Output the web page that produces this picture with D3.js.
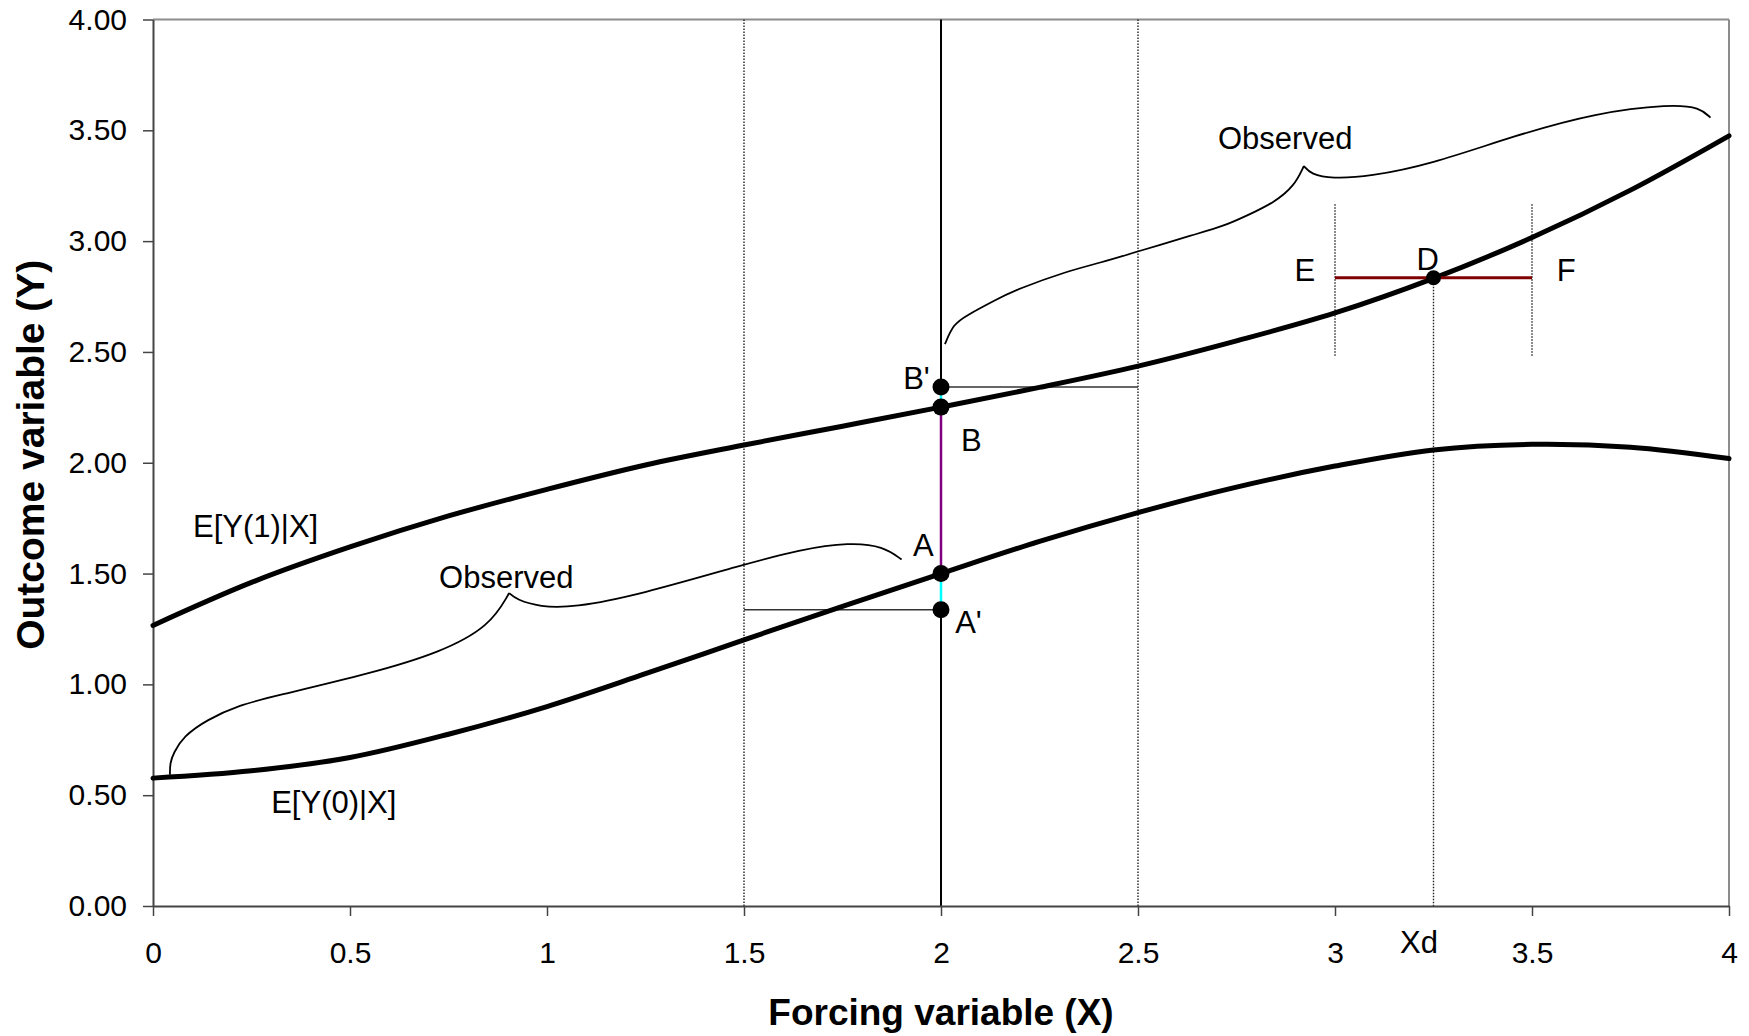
<!DOCTYPE html>
<html><head><meta charset="utf-8">
<script src="https://cdn.jsdelivr.net/npm/d3@7"></script>
<style>
body{margin:0;background:#fff}
text{font-family:"Liberation Sans", Arial, sans-serif}
</style>
</head><body>
<svg id="c" width="1749" height="1036"></svg>
<script>
// ---------- data ----------
const xTicks = [0, 0.5, 1, 1.5, 2, 2.5, 3, 3.5, 4];
const yTicks = [0, 0.5, 1, 1.5, 2, 2.5, 3, 3.5, 4];
const curveX = [0, 0.25, 0.5, 0.75, 1, 1.25, 1.5, 1.75, 2, 2.25, 2.5, 2.75, 3, 3.25, 3.5, 3.75, 4];
const treatedY = [1.266, 1.46, 1.62, 1.76, 1.88, 1.99, 2.08, 2.165, 2.251, 2.34, 2.436, 2.55, 2.676, 2.832, 3.016, 3.23, 3.475];
const controlY = [0.577, 0.61, 0.67, 0.775, 0.90, 1.048, 1.201, 1.352, 1.50, 1.645, 1.775, 1.89, 1.985, 2.058, 2.083, 2.07, 2.019];

// braces (x, y) in data units
const braceLowLeft = [[0.043,0.592],[0.043,0.644],[0.052,0.690],[0.077,0.765],[0.136,0.840],[0.221,0.908],[0.305,0.945],[0.558,1.052],[0.728,1.143],[0.855,1.262],[0.904,1.412]];
const braceLowRight = [[0.904,1.412],[0.923,1.382],[0.982,1.350],[1.066,1.346],[1.236,1.405],[1.498,1.54],[1.642,1.608],[1.769,1.641],[1.854,1.623],[1.90,1.563]];
const braceUpLeft = [[2.010,2.535],[2.031,2.624],[2.062,2.662],[2.141,2.737],[2.192,2.782],[2.321,2.865],[2.404,2.902],[2.503,2.955],[2.645,3.031],[2.718,3.068],[2.775,3.114],[2.845,3.173],[2.897,3.249],[2.921,3.339]];
const braceUpRight = [[2.921,3.339],[2.939,3.302],[2.992,3.282],[3.086,3.291],[3.244,3.347],[3.454,3.475],[3.664,3.580],[3.853,3.618],[3.926,3.603],[3.953,3.557]];

// key points
const cutoff = 2;
const bandLow = 1.5, bandHigh = 2.5;
const pointNames = ["B'", "B", "A", "A'"];
const pointY = [2.342, 2.251, 1.50, 1.337];
const xd = 3.25, dY = 2.835;
const winLow = 3.0, winHigh = 3.5, winTop = 3.166, winBottom = 2.478;

// text annotations (data units, left/baseline anchor)
const labelText = ["E[Y(1)|X]", "Observed", "E[Y(0)|X]", "Observed", "E", "D", "F", "B'", "B", "A", "A'", "Xd"];
const labelX = [0.1015, 0.726, 0.30, 2.703, 2.897, 3.207, 3.563, 1.904, 2.051, 1.929, 2.036, 3.165];
const labelY = [1.667, 1.436, 0.42, 3.415, 2.82, 2.869, 2.82, 2.331, 2.051, 1.578, 1.232, -0.212];

// ---------- layout ----------
const W = 1749, H = 1036;
const m = {l: 153, r: 20, t: 19.5, b: 130};
const svg = d3.select("#c");
const x = d3.scaleLinear().domain([0, 4]).range([m.l, W - m.r]);
const y = d3.scaleLinear().domain([0, 4]).range([H - m.b, m.t]);
const x0 = x(0), x1 = x(4), y0 = y(0), y1 = y(4);

// frame (top & right in gray)
svg.append("line").attr("x1", x0).attr("x2", x1).attr("y1", y1).attr("y2", y1).attr("stroke", "#8c8c8c").attr("stroke-width", 2);
svg.append("line").attr("x1", x1).attr("x2", x1).attr("y1", y1).attr("y2", y0).attr("stroke", "#8c8c8c").attr("stroke-width", 2);

// dotted verticals at band edges
[bandLow, bandHigh].forEach(v => {
  svg.append("line").attr("x1", x(v)).attr("x2", x(v)).attr("y1", y1).attr("y2", y0)
    .attr("stroke", "#222").attr("stroke-width", 1.4).attr("stroke-dasharray", "1.5,1.5");
});
// dotted verticals for window around Xd
[winLow, winHigh].forEach(v => {
  svg.append("line").attr("x1", x(v)).attr("x2", x(v)).attr("y1", y(winTop)).attr("y2", y(winBottom))
    .attr("stroke", "#222").attr("stroke-width", 1.4).attr("stroke-dasharray", "1.5,1.5");
});
svg.append("line").attr("x1", x(xd)).attr("x2", x(xd)).attr("y1", y(dY)).attr("y2", y0)
  .attr("stroke", "#222").attr("stroke-width", 1.4).attr("stroke-dasharray", "1.5,1.5");

// cutoff line
svg.append("line").attr("x1", x(cutoff)).attr("x2", x(cutoff)).attr("y1", y1).attr("y2", y0)
  .attr("stroke", "#000").attr("stroke-width", 2);

// horizontal connectors
svg.append("line").attr("x1", x(bandLow)).attr("x2", x(cutoff)).attr("y1", y(pointY[3])).attr("y2", y(pointY[3]))
  .attr("stroke", "#333").attr("stroke-width", 1.6);
svg.append("line").attr("x1", x(cutoff)).attr("x2", x(bandHigh)).attr("y1", y(pointY[0])).attr("y2", y(pointY[0]))
  .attr("stroke", "#333").attr("stroke-width", 1.6);

// braces
const braceLine = d3.line().x(d => x(d[0])).y(d => y(d[1])).curve(d3.curveBasis);
[braceLowLeft, braceLowRight, braceUpLeft, braceUpRight].forEach(b => {
  svg.append("path").attr("d", braceLine(b)).attr("fill", "none").attr("stroke", "#000").attr("stroke-width", 1.8);
});

// axes
const yAxis = d3.axisLeft(y).tickValues(yTicks).tickFormat(d3.format(".2f")).tickSize(10).tickPadding(16).tickSizeOuter(0);
const xAxis = d3.axisBottom(x).tickValues(xTicks).tickFormat(d => String(d)).tickSize(10).tickPadding(26).tickSizeOuter(0);
const gy = svg.append("g").attr("transform", `translate(${x0},0)`).call(yAxis);
const gx = svg.append("g").attr("transform", `translate(0,${y0})`).call(xAxis);
[gx, gy].forEach(g => {
  g.select(".domain").attr("stroke", "#444").attr("stroke-width", 2);
  g.selectAll(".tick line").attr("stroke", "#444").attr("stroke-width", 1.5);
  g.selectAll(".tick text").attr("fill", "#000").style("font-size", "30px").style("font-family", '"Liberation Sans", Arial, sans-serif');
});

// curves
const curveLine = d3.line().x((d, i) => x(curveX[i])).y(d => y(d)).curve(d3.curveCatmullRom.alpha(0.5));
svg.append("path").attr("d", curveLine(treatedY)).attr("fill", "none").attr("stroke", "#000").attr("stroke-width", 5).attr("stroke-linecap", "round");
svg.append("path").attr("d", curveLine(controlY)).attr("fill", "none").attr("stroke", "#000").attr("stroke-width", 5).attr("stroke-linecap", "round");

// coloured segments at cutoff
svg.append("line").attr("x1", x(cutoff)).attr("x2", x(cutoff)).attr("y1", y(pointY[1])).attr("y2", y(pointY[2])).attr("stroke", "#800080").attr("stroke-width", 2.5);
svg.append("line").attr("x1", x(cutoff)).attr("x2", x(cutoff)).attr("y1", y(pointY[0])).attr("y2", y(pointY[1])).attr("stroke", "#00ffff").attr("stroke-width", 2.5);
svg.append("line").attr("x1", x(cutoff)).attr("x2", x(cutoff)).attr("y1", y(pointY[2])).attr("y2", y(pointY[3])).attr("stroke", "#00ffff").attr("stroke-width", 2.5);

// window line E-F
svg.append("line").attr("x1", x(winLow)).attr("x2", x(winHigh)).attr("y1", y(dY)).attr("y2", y(dY)).attr("stroke", "#800000").attr("stroke-width", 3);

// points
svg.selectAll("circle.p").data(pointY).enter().append("circle").attr("class", "p")
  .attr("cx", x(cutoff)).attr("cy", d => y(d)).attr("r", 8.5).attr("fill", "#000");
svg.append("circle").attr("cx", x(xd)).attr("cy", y(dY)).attr("r", 7.5).attr("fill", "#000");

// labels
labelText.forEach((t, i) => {
  svg.append("text").attr("x", x(labelX[i])).attr("y", y(labelY[i])).text(t)
    .style("font-size", "31px").attr("fill", "#000");
});

// axis titles
svg.append("text").attr("x", (x0 + x1) / 2).attr("y", 1025).attr("text-anchor", "middle")
  .style("font-size", "37px").style("font-weight", "bold").text("Forcing variable (X)");
svg.append("text").attr("transform", `translate(44,${(y0 + y1) / 2 - 8}) rotate(-90)`).attr("text-anchor", "middle")
  .style("font-size", "39px").style("font-weight", "bold").text("Outcome variable (Y)");
</script>
</body></html>
